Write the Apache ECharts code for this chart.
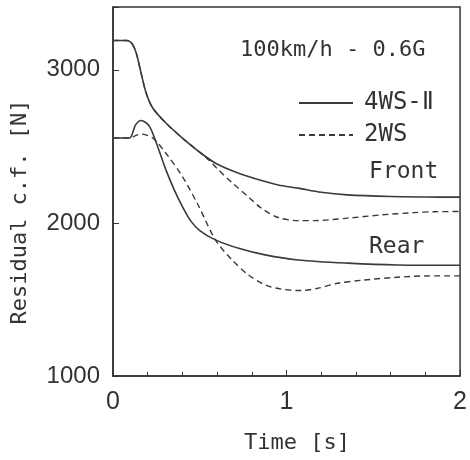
<!DOCTYPE html>
<html>
<head>
<meta charset="utf-8">
<script src="https://cdn.jsdelivr.net/npm/echarts@6/dist/echarts.min.js"></script>
<style>html,body{margin:0;padding:0;background:#fff;}#c{width:470px;height:460px;}</style>
</head>
<body>
<div id="c"></div>
<script>
// Front, 4WS-II
var frontT_4ws = [0, 0.04, 0.08, 0.11, 0.134, 0.162, 0.191, 0.229, 0.305, 0.4, 0.495, 0.591, 0.724, 0.877, 0.952, 1.067, 1.2, 1.35, 1.6, 1.8, 2.0];
var frontV_4ws = [3191, 3191, 3191, 3170, 3109, 2978, 2848, 2750, 2652, 2554, 2466, 2390, 2325, 2270, 2248, 2227, 2200, 2183, 2172, 2169, 2168];
// Front, 2WS
var frontT_2ws = [0, 0.04, 0.08, 0.11, 0.134, 0.162, 0.191, 0.229, 0.305, 0.4, 0.495, 0.55, 0.6, 0.686, 0.78, 0.85, 0.952, 1.067, 1.162, 1.352, 1.543, 1.733, 1.85, 2.0];
var frontV_2ws = [3191, 3191, 3191, 3170, 3109, 2978, 2848, 2750, 2652, 2554, 2466, 2412, 2355, 2262, 2170, 2100, 2035, 2015, 2015, 2031, 2052, 2067, 2073, 2074];
// Rear, 4WS-II
var rearT_4ws = [0, 0.05, 0.095, 0.13, 0.162, 0.21, 0.257, 0.305, 0.353, 0.4, 0.45, 0.5, 0.59, 0.724, 0.877, 1.067, 1.352, 1.638, 2.0];
var rearV_4ws = [2554, 2554, 2554, 2640, 2669, 2630, 2499, 2346, 2216, 2107, 2010, 1950, 1889, 1834, 1791, 1758, 1737, 1725, 1723];
// Rear, 2WS
var rearT_2ws = [0, 0.05, 0.1, 0.13, 0.162, 0.229, 0.305, 0.4, 0.495, 0.59, 0.686, 0.781, 0.877, 0.971, 1.086, 1.181, 1.295, 1.448, 1.638, 1.829, 2.0];
var rearV_2ws = [2554, 2554, 2554, 2570, 2580, 2554, 2455, 2303, 2107, 1889, 1758, 1660, 1595, 1567, 1558, 1573, 1606, 1627, 1645, 1654, 1654];

var yTicks = [1000, 2000, 3000];
var xTicks = [0, 1, 2];

function pairs(t, v) { return t.map(function (x, i) { return [x, v[i]]; }); }

var lineColor = '#3a3a3a';
var textColor = '#333';
var mono = '"DejaVu Sans Mono", monospace';

var chart = echarts.init(document.getElementById('c'), null, {renderer: 'canvas'});
chart.setOption({
  animation: false,
  backgroundColor: '#fff',
  grid: {left: 113, right: 7, top: 7, bottom: 84, show: true, borderColor: '#333', borderWidth: 1.5, backgroundColor: 'transparent'},
  xAxis: {
    type: 'value', min: 0, max: 2, interval: 1,
    axisLine: {show: true, lineStyle: {color: '#333', width: 1.5}},
    axisTick: {show: true, inside: true, length: 6, lineStyle: {color: '#333'}},
    minorTick: {show: true, splitNumber: 5, length: 4, lineStyle: {color: '#333'}},
    splitLine: {show: false},
    axisLabel: {color: textColor, fontFamily: 'Liberation Sans', fontSize: 25, margin: 14,
      formatter: function (v) { return xTicks.indexOf(v) >= 0 ? String(v) : ''; }}
  },
  yAxis: {
    type: 'value', min: 1000, max: 3410, interval: 1000,
    axisLine: {show: true, lineStyle: {color: '#333', width: 1.5}},
    axisTick: {show: true, inside: true, length: 6, lineStyle: {color: '#333'}},
    splitLine: {show: false},
    axisLabel: {color: textColor, fontFamily: 'Liberation Sans', fontSize: 24, margin: 13,
      formatter: function (v) { return yTicks.indexOf(v) >= 0 ? String(v) : ''; }}
  },
  legend: {
    left: 293, top: 86, orient: 'vertical', itemGap: 8, itemWidth: 54, itemHeight: 22,
    data: ['4WS-Ⅱ', '2WS'],
    itemStyle: {opacity: 0},
    textStyle: {color: textColor, fontFamily: mono, fontSize: 24, padding: [0, 0, 0, 6]},
    selectedMode: false
  },
  series: [
    {name: '4WS-Ⅱ', type: 'line', data: pairs(frontT_4ws, frontV_4ws), symbol: 'none', smooth: 0.3,
      lineStyle: {color: lineColor, width: 1.6, type: 'solid'}, itemStyle: {color: lineColor}},
    {name: '2WS', type: 'line', data: pairs(frontT_2ws, frontV_2ws), symbol: 'none', smooth: 0.3,
      lineStyle: {color: lineColor, width: 1.4, type: [6, 4]}, itemStyle: {color: lineColor}},
    {name: '4WS-Ⅱ', type: 'line', data: pairs(rearT_4ws, rearV_4ws), symbol: 'none', smooth: 0.3,
      lineStyle: {color: lineColor, width: 1.6, type: 'solid'}, itemStyle: {color: lineColor}},
    {name: '2WS', type: 'line', data: pairs(rearT_2ws, rearV_2ws), symbol: 'none', smooth: 0.3,
      lineStyle: {color: lineColor, width: 1.4, type: [6, 4]}, itemStyle: {color: lineColor}}
  ],
  graphic: [
    {type: 'text', x: 240, y: 50, style: {text: '100km/h - 0.6G', fill: textColor, font: '22px ' + mono, textVerticalAlign: 'middle'}},
    {type: 'text', x: 369, y: 172, style: {text: 'Front', fill: textColor, font: '23px ' + mono, textVerticalAlign: 'middle'}},
    {type: 'text', x: 369, y: 247, style: {text: 'Rear', fill: textColor, font: '23px ' + mono, textVerticalAlign: 'middle'}},
    {type: 'text', x: 297, y: 443, style: {text: 'Time [s]', fill: textColor, font: '22px ' + mono, textAlign: 'center', textVerticalAlign: 'middle'}},
    {type: 'text', x: 20, y: 212, rotation: Math.PI / 2, style: {text: 'Residual c.f. [N]', fill: textColor, font: '22px ' + mono, textAlign: 'center', textVerticalAlign: 'middle'}}
  ]
});
</script>
</body>
</html>
